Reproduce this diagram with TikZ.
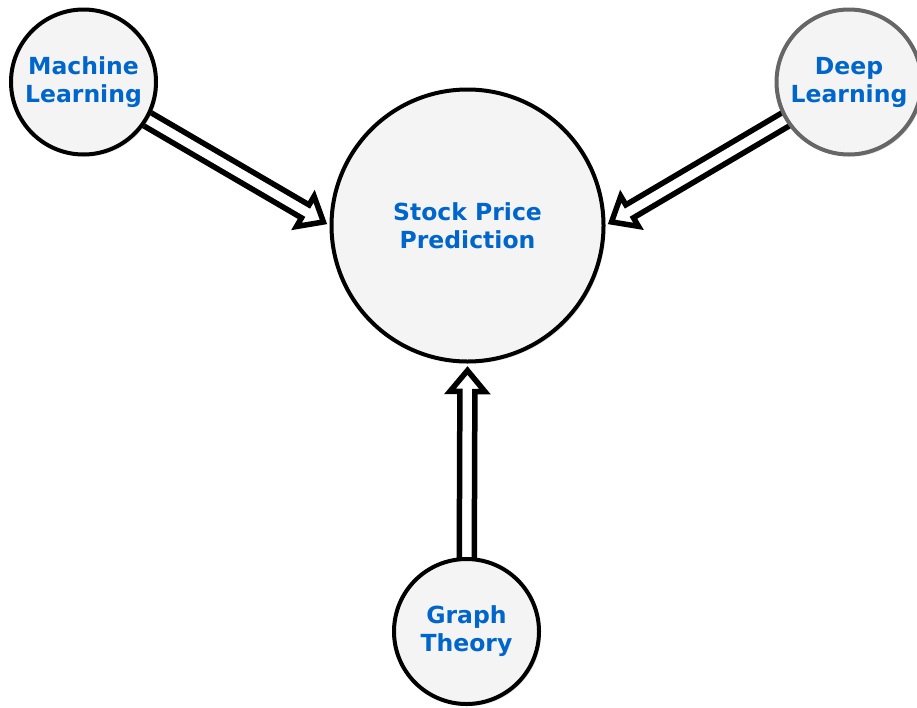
\documentclass[tikz,border=0pt]{standalone}
\usepackage{fontspec}
\setmainfont{DejaVu Sans}
\usetikzlibrary{calc, backgrounds, shadows}

\definecolor{topicblue}{HTML}{0066CC}
\definecolor{topicfill}{HTML}{F4F4F4}
\definecolor{topicgray}{HTML}{666666}

\tikzset{
  topic/.style={circle, draw=black, line width=4pt, fill=topicfill,
    text=topicblue, align=center, inner sep=0pt,
    font=\bfseries\fontsize{23.5}{28}\selectfont,
    drop shadow={opacity=0.25, shadow xshift=2pt, shadow yshift=-2pt}},
  flexarrow/.style={draw=black, fill=white, line width=5.5pt, line join=miter,
    drop shadow={opacity=0.25, shadow xshift=2pt, shadow yshift=-2pt},
    to path={
      let \p1=(\tikztostart), \p2=(\tikztotarget),
          \n1={atan2(\y2-\y1,\x2-\x1)}, \n2={veclen(\x2-\x1,\y2-\y1)-7} in
      ($(\p1)+({\n1+90}:7.5)$)
      -- ($(\p1)+(\n1:{\n2-21})+({\n1+90}:7.5)$)
      -- ($(\p1)+(\n1:{\n2-21})+({\n1+90}:17.5)$)
      -- ($(\p1)+(\n1:\n2)$)
      -- ($(\p1)+(\n1:{\n2-21})+({\n1-90}:17.5)$)
      -- ($(\p1)+(\n1:{\n2-21})+({\n1-90}:7.5)$)
      -- ($(\p1)+({\n1-90}:7.5)$) -- cycle}}
}

\begin{document}
\begin{tikzpicture}[x=1pt, y=1pt]
      \useasboundingbox (0,0) rectangle (917,-707);

      \node[topic, minimum size=272pt] (spp) at (467.5,-225.5) {Stock Price\\Prediction};
      \node[topic, minimum size=145pt] (ml) at (83.5,-82) {Machine\\Learning};
      \node[topic, minimum size=145pt, draw=topicgray] (dl) at (849,-82) {Deep\\Learning};
      \node[topic, minimum size=145pt] (gt) at (466.5,-631.5) {Graph\\Theory};

      % hollow arrows go under the circles
      \begin{scope}[on background layer]
        \draw[flexarrow] (ml) to (spp.west);
        \draw[flexarrow] (dl) to (spp.east);
        \draw[flexarrow] (gt) to (spp.south);
      \end{scope}
    \end{tikzpicture}
\end{document}
